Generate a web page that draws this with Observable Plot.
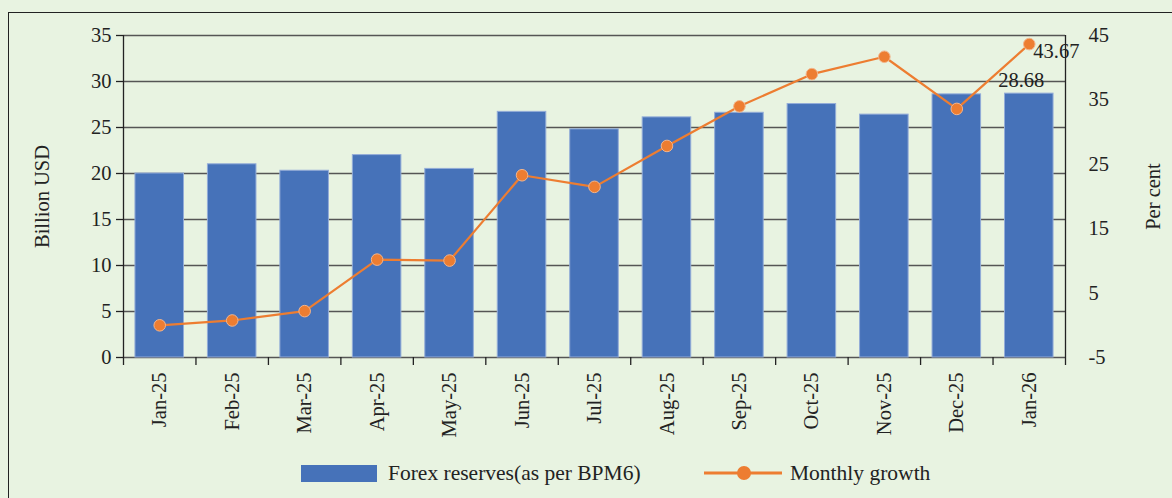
<!DOCTYPE html>
<html>
<head>
<meta charset="utf-8">
<script src="https://cdn.jsdelivr.net/npm/d3@7"></script>
<script src="https://cdn.jsdelivr.net/npm/@observablehq/plot@0.6"></script>
<style>
  html, body { margin: 0; padding: 0; }
  body { width: 1172px; height: 498px; overflow: hidden; background: #e8f3e1; position: relative; font-family: "Liberation Serif", serif; color: #222; }
  #frame { position: absolute; left: 8px; top: 12px; width: 1200px; height: 600px; border-top: 1.5px solid #222; border-left: 1.5px solid #222; }
  #chart { position: absolute; left: 0; top: 0; }
  .leg { position: absolute; font-size: 21.5px; line-height: 22px; white-space: nowrap; }
</style>
</head>
<body>
<div id="frame"></div>
<div id="chart"></div>
<svg class="leg" style="left:301px; top:465px;" width="76" height="17"><rect width="76" height="17" fill="#4672b9"/></svg>
<div class="leg" style="left:388px; top:462px;">Forex reserves(as per BPM6)</div>
<svg class="leg" style="left:704px; top:462px;" width="80" height="22"><line x1="0" x2="78" y1="11" y2="11" stroke="#ed7d31" stroke-width="3"/><circle cx="40" cy="11" r="7" fill="#ed7d31"/></svg>
<div class="leg" style="left:790px; top:462px;">Monthly growth</div>
<script>
const months = ["Jan-25","Feb-25","Mar-25","Apr-25","May-25","Jun-25","Jul-25","Aug-25","Sep-25","Oct-25","Nov-25","Dec-25","Jan-26"];
const reserves = [20.0, 21.0, 20.3, 22.0, 20.5, 26.7, 24.8, 26.1, 26.6, 27.55, 26.4, 28.6, 28.68];
const growth = [0.0, 0.75, 2.2, 10.2, 10.05, 23.3, 21.5, 27.85, 34.0, 39.0, 41.7, 33.6, 43.67];
const leftTicks = [0, 5, 10, 15, 20, 25, 30, 35];
const rightTicks = [-5, 5, 15, 25, 35, 45];

// right axis domain [-5, 45] shares the frame with left axis domain [0, 35]
const toLeft = g => (g + 5) * 35 / 50;
const fromLeft = v => Math.round(v * 50 / 35 - 5);

const rows = months.map((m, i) => ({i, month: m, reserves: reserves[i], growth: growth[i]}));
const idx = months.map((m, i) => i);
const bounds = months.map((m, i) => i - 0.5).concat([months.length - 0.5]);
const last = rows[rows.length - 1];

const chart = Plot.plot({
  width: 1172,
  height: 440,
  marginLeft: 123,
  marginRight: 107,
  marginTop: 35,
  marginBottom: 83,
  x: {type: "linear", domain: [-0.5, months.length - 0.5], axis: null},
  y: {domain: [0, 35], axis: null},
  style: {fontFamily: "Liberation Serif", fontSize: "20.5px", color: "#222", background: "transparent", overflow: "visible"},
  marks: [
    Plot.ruleY(leftTicks, {stroke: "#555", strokeWidth: 1.3}),
    Plot.rectY(rows, {x1: d => d.i - 0.335, x2: d => d.i + 0.335, y1: 0, y2: "reserves", fill: "#4672b9", stroke: "#93acd8", strokeWidth: 1}),
    Plot.ruleX([bounds[0], bounds[bounds.length - 1]], {y1: 0, y2: 35, stroke: "#222", strokeWidth: 1.3}),
    Plot.axisY(leftTicks, {anchor: "left", tickSize: 7, tickPadding: 5, strokeWidth: 1.3, label: null}),
    Plot.axisY(rightTicks.map(toLeft), {anchor: "right", tickSize: 0, tickPadding: 23, tickFormat: fromLeft, label: null}),
    Plot.axisX(bounds, {anchor: "bottom", tickSize: 8, tickFormat: () => "", strokeWidth: 1.3, label: null}),
    Plot.axisX(idx, {anchor: "bottom", tickSize: 0, tickPadding: 15, tickRotate: -90, tickFormat: i => months[i], label: null}),
    Plot.line(rows, {x: "i", y: d => toLeft(d.growth), stroke: "#ed7d31", strokeWidth: 2.2}),
    Plot.dot(rows, {x: "i", y: d => toLeft(d.growth), r: 5.8, fill: "#ed7d31", stroke: "#f3b58c", strokeWidth: 1}),
    Plot.text([last], {x: "i", y: "reserves", text: d => d.reserves.toFixed(2), dx: -8, dy: -13, fill: "#222"}),
    Plot.text([last], {x: "i", y: d => toLeft(d.growth), text: d => d.growth.toFixed(2), textAnchor: "start", dx: 4, dy: 7, fill: "#222"}),
    Plot.text(["Billion USD"], {frameAnchor: "left", textAnchor: "middle", dx: -81, rotate: -90, fill: "#222"}),
    Plot.text(["Per cent"], {frameAnchor: "right", textAnchor: "middle", dx: 88, rotate: -90, fill: "#222"})
  ]
});
document.getElementById("chart").appendChild(chart);
</script>
</body>
</html>
